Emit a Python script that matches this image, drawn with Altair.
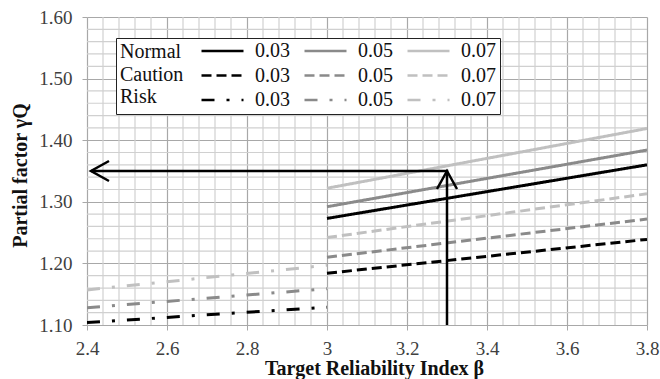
import altair as alt
import pandas as pd

# ---- data ----
beta_normal = [3.0, 3.8]
normal_003 = [1.273, 1.360]
normal_005 = [1.292, 1.384]
normal_007 = [1.322, 1.419]

beta_caution = [3.0, 3.8]
caution_003 = [1.184, 1.239]
caution_005 = [1.210, 1.272]
caution_007 = [1.242, 1.313]

beta_risk = [2.4, 3.0]
risk_003 = [1.104, 1.129]
risk_005 = [1.128, 1.159]
risk_007 = [1.157, 1.197]

arrow_beta = [3.3, 3.3, 2.41]
arrow_value = [1.10, 1.35, 1.35]

x_major_ticks = [2.4, 2.6, 2.8, 3.0, 3.2, 3.4, 3.6, 3.8]
y_major_ticks = [1.10, 1.20, 1.30, 1.40, 1.50, 1.60]
x_minor_grid = [2.44, 2.48, 2.52, 2.56, 2.64, 2.68, 2.72, 2.76, 2.84, 2.88, 2.92, 2.96,
                3.04, 3.08, 3.12, 3.16, 3.24, 3.28, 3.32, 3.36, 3.44, 3.48, 3.52, 3.56,
                3.64, 3.68, 3.72, 3.76]
y_minor_grid = [1.12, 1.14, 1.16, 1.18, 1.22, 1.24, 1.26, 1.28, 1.32, 1.34, 1.36, 1.38,
                1.42, 1.44, 1.46, 1.48, 1.52, 1.54, 1.56, 1.58]

keys = ["Normal 0.03", "Normal 0.05", "Normal 0.07",
        "Caution 0.03", "Caution 0.05", "Caution 0.07",
        "Risk 0.03", "Risk 0.05", "Risk 0.07"]

series = [
    ("Normal 0.03", beta_normal, normal_003),
    ("Normal 0.05", beta_normal, normal_005),
    ("Normal 0.07", beta_normal, normal_007),
    ("Caution 0.03", beta_caution, caution_003),
    ("Caution 0.05", beta_caution, caution_005),
    ("Caution 0.07", beta_caution, caution_007),
    ("Risk 0.03", beta_risk, risk_003),
    ("Risk 0.05", beta_risk, risk_005),
    ("Risk 0.07", beta_risk, risk_007),
]
rows = []
for k, bs, vs in series:
    for b, v in zip(bs, vs):
        rows.append({"key": k, "beta": b, "value": v})
df = pd.DataFrame(rows)

arrow_df = pd.DataFrame({"beta": arrow_beta, "value": arrow_value,
                         "order": list(range(len(arrow_beta)))})
head_up = pd.DataFrame({"beta": [arrow_beta[1]], "value": [arrow_value[1]]})
head_left = pd.DataFrame({"beta": [arrow_beta[2]], "value": [arrow_value[2]]})
xgrid_df = pd.DataFrame({"beta": x_minor_grid})
ygrid_df = pd.DataFrame({"value": y_minor_grid})

colors = ["#000000", "#8a8a8a", "#c0c0c0"] * 3
dashes = [[1, 0]] * 3 + [[10, 5]] * 3 + [[13, 12, 3, 12]] * 3

FONT = "Liberation Serif"
GRID_MAJOR = "#a8a8a8"
GRID_MINOR = "#d0d0d0"

x_scale = alt.Scale(domain=[2.4, 3.8], nice=False, zero=False)
y_scale = alt.Scale(domain=[1.10, 1.60], nice=False, zero=False)

x_axis = alt.Axis(
    values=x_major_ticks, format="~g",
    grid=True, gridColor=GRID_MAJOR, gridWidth=1.2,
    domain=False, ticks=True, tickSize=5, tickColor=GRID_MAJOR,
    labelFont=FONT, labelFontSize=19, labelColor="#404040", labelPadding=9,
    labelFlush=False, labelOverlap=False,
    title="Target Reliability Index β",
    titleFont=FONT, titleFontSize=20, titleFontWeight="bold", titleColor="#111111",
    titlePadding=0, titleX=287,
)
y_axis = alt.Axis(
    values=y_major_ticks, format=".2f",
    grid=True, gridColor=GRID_MAJOR, gridWidth=1.2,
    domain=False, ticks=True, tickSize=5, tickColor=GRID_MAJOR,
    labelFont=FONT, labelFontSize=19, labelColor="#404040", labelPadding=10,
    labelFlush=False, labelOverlap=False,
    title="Partial factor γQ",
    titleFont=FONT, titleFontSize=20, titleFontWeight="bold", titleColor="#111111",
    titlePadding=8, titleY=158,
)

X = alt.X("beta:Q", scale=x_scale, axis=x_axis)
Y = alt.Y("value:Q", scale=y_scale, axis=y_axis)

legend = alt.Legend(
    orient="none", legendX=29, legendY=21,
    columns=3, direction="horizontal",
    symbolType="stroke", symbolSize=1764, symbolStrokeWidth=2.5,
    labelExpr="split(datum.label, ' ')[1]",
    labelFont=FONT, labelFontSize=20, labelColor="#111111", labelOffset=10,
    columnPadding=13, rowPadding=4.5, clipHeight=18,
    title=["Normal", "Caution", "Risk"], titleOrient="left", titleAlign="left",
    titleAnchor="start", titleBaseline="top",
    titleFont=FONT, titleFontSize=20, titleFontWeight="normal", titleColor="#111111",
    titleLineHeight=22.5, titlePadding=16,
    strokeColor="#222222", fillColor="white", padding=4, cornerRadius=0,
)

xgrid = alt.Chart(xgrid_df).mark_rule(color=GRID_MINOR, strokeWidth=1.2).encode(x=X)
ygrid = alt.Chart(ygrid_df).mark_rule(color=GRID_MINOR, strokeWidth=1.2).encode(y=Y)

lines = alt.Chart(df).mark_line(strokeWidth=3, clip=True).encode(
    x=X, y=Y,
    color=alt.Color("key:N", scale=alt.Scale(domain=keys, range=colors), legend=legend),
    strokeDash=alt.StrokeDash("key:N", scale=alt.Scale(domain=keys, range=dashes), legend=legend),
    detail="key:N",
)

arrow = alt.Chart(arrow_df).mark_line(color="black", strokeWidth=2.5, strokeCap="butt").encode(
    x=X, y=Y, order="order:Q",
)

chevron = "M-1,1.8L0,0L1,1.8"
up = alt.Chart(head_up).mark_point(shape=chevron, size=400, filled=False,
                                   color="black", strokeWidth=2.5, opacity=1, angle=0).encode(x=X, y=Y)
left = alt.Chart(head_left).mark_point(shape=chevron, size=400, filled=False,
                                       color="black", strokeWidth=2.5, opacity=1, angle=270).encode(x=X, y=Y)

chart = alt.layer(xgrid, ygrid, lines, arrow, up, left).properties(
    width=560, height=308,
    autosize=alt.AutoSizeParams(type="none"),
    padding={"left": 87, "top": 17, "right": 13, "bottom": 54},
    background="white",
).configure_view(stroke=None)

chart.save("out.html", embed_options={"renderer": "svg", "actions": False})
